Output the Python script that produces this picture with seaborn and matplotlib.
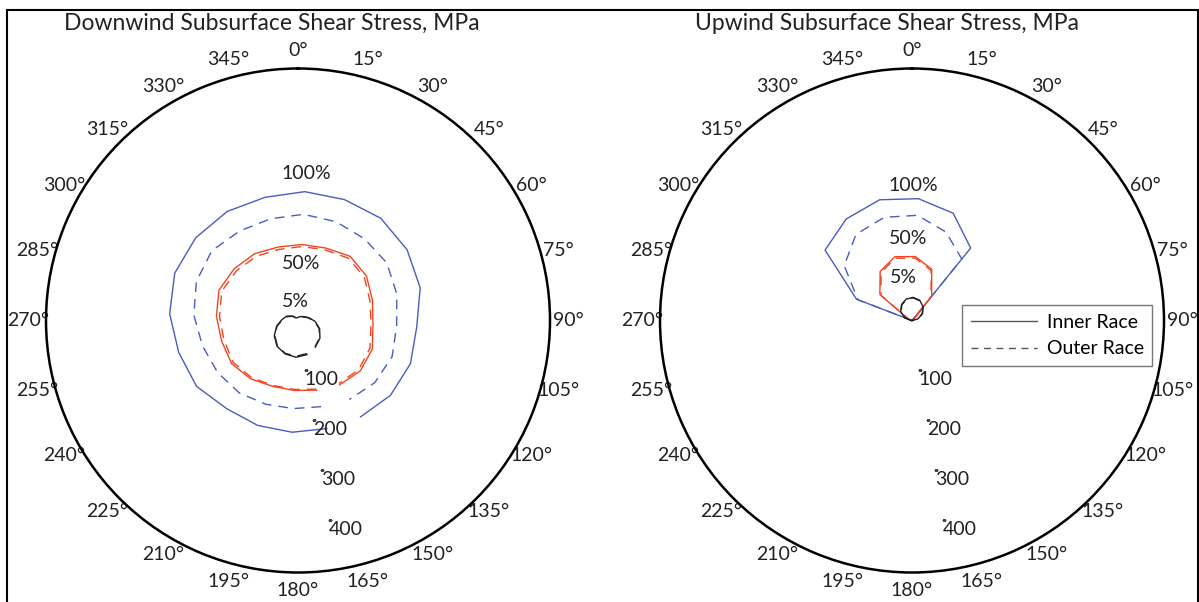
import numpy as np
import matplotlib
matplotlib.use("Agg")
import matplotlib.pyplot as plt
from matplotlib.lines import Line2D
import matplotlib.transforms as mtransforms
import seaborn as sns

plt.rcParams['font.family'] = ['Lato', 'DejaVu Sans']

# Sample angles (degrees, clockwise from top), in plotting order
angles = [165, 183, 201, 219, 237, 255, 273, 291, 309, 327,
          345, 363, 381, 399, 417, 435, 453, 471, 489, 507]

# Downwind (left) – MPa
down_inner_100 = [222, 222, 223, 225, 240, 245, 255, 262, 261, 258,
                  253, 256, 257, 261, 258, 251, 236, 239, 236, 228]
down_outer_100 = [177, 175, 178, 185, 190, 196, 207, 216, 220, 212,
                  209, 211, 210, 209, 210, 203, 196, 200, 196, 187]
down_inner_50 = [143, 139, 140, 149, 157, 157, 162, 168, 163, 158,
                 151, 151, 154, 164, 162, 153, 149, 158, 159, 152]
down_outer_50 = [141, 137, 138, 146, 153, 152, 156, 162, 157, 152,
                 146, 147, 150, 159, 157, 148, 145, 153, 155, 149]
down_inner_5 = [70, 73, 71, 66, 56, 44, 32, 24, 14, 6,
                6, 6, 8, 10, 14, 22, 34, 46, 56, 63]
down_outer_5 = [68, 71, 70, 65, 55, 43, 31, 22, 13, 5,
                5, 5, 7, 9, 13, 21, 33, 45, 55, 62]

# Upwind (right) – MPa
up_inner_100 = [0, 0, 0, 0, 0, 0, 0, 118, 222, 240,
                248, 242, 228, 185, 0, 0, 0, 0, 0, 0]
up_outer_100 = [0, 0, 0, 0, 0, 0, 0, 115, 173, 204,
                212, 209, 188, 157, 0, 0, 0, 0, 0, 0]
up_inner_50 = [0, 0, 0, 0, 0, 0, 0, 8, 82, 116,
               131, 127, 109, 62, 4, 0, 0, 0, 0, 0]
up_outer_50 = [0, 0, 0, 0, 0, 0, 0, 6, 79, 113,
               128, 124, 106, 60, 3, 0, 0, 0, 0, 0]
up_inner_5 = [0, 0, 0, 0, 0, 0, 2, 16, 29, 38,
              44, 46, 43, 35, 25, 12, 0, 0, 0, 0]
up_outer_5 = [0, 0, 0, 0, 0, 0, 2, 15, 28, 37,
              43, 45, 42, 34, 24, 11, 0, 0, 0, 0]

r_ticks = [100, 200, 300, 400]
theta_ticks = list(range(0, 360, 15))
titles = ["Downwind Subsurface Shear Stress, MPa", "Upwind Subsurface Shear Stress, MPa"]
pct_labels = ["100%", "50%", "5%"]

BLUE = "#4B5CC0"
RED = "#F2451F"
BLACK = "#222222"
TXT = "#222222"
DASH = (0, (7, 5))

W, H = 1199, 602
fig = plt.figure(figsize=(W / 100, H / 100), dpi=100)

def px_axes(x0, y0, x1, y1):
    return [x0 / W, 1 - y1 / H, (x1 - x0) / W, (y1 - y0) / H]

ax_l = fig.add_axes(px_axes(46, 68, 550, 573), projection='polar')
ax_r = fig.add_axes(px_axes(660, 68, 1164, 573), projection='polar')

series = {
    ax_l: [(down_inner_100, BLUE, '-'), (down_outer_100, BLUE, DASH),
           (down_inner_50, RED, '-'), (down_outer_50, RED, DASH),
           (down_inner_5, BLACK, '-'), (down_outer_5, BLACK, DASH)],
    ax_r: [(up_inner_100, BLUE, '-'), (up_outer_100, BLUE, DASH),
           (up_inner_50, RED, '-'), (up_outer_50, RED, DASH),
           (up_inner_5, BLACK, '-'), (up_outer_5, BLACK, DASH)],
}

RLABEL_ANGLE = 171
theta = np.deg2rad(angles)
for ax, lst in series.items():
    ax.set_theta_zero_location('N')
    ax.set_theta_direction(-1)
    for vals, col, ls in lst:
        sns.lineplot(x=theta, y=vals, sort=False, estimator=None, ax=ax,
                     color=col, linewidth=1.0, linestyle=ls, legend=False)
    ax.set_ylim(0, 500)
    ax.set_rticks(r_ticks)
    ax.set_yticklabels([])
    ax.set_rlabel_position(RLABEL_ANGLE)
    ax.set_thetagrids(theta_ticks, labels=[f"{t}°" for t in theta_ticks])
    ax.grid(False)
    ax.spines['polar'].set_linewidth(1.8)
    ax.spines['polar'].set_color('black')
    ax.tick_params(axis='x', direction='in', length=6, width=1.2, pad=6,
                   labelsize=14, colors=TXT)
    ax.set_xlabel('')
    ax.set_ylabel('')
    # radial value labels, placed just below-right of each radial tick
    off = mtransforms.ScaledTranslation(-1 / 100, -1 / 100, fig.dpi_scale_trans)
    for rv in r_ticks:
        ax.text(np.deg2rad(RLABEL_ANGLE), rv, str(rv), transform=ax.transData + off,
                ha='left', va='top', fontsize=14, color=TXT)
        ax.plot([np.deg2rad(RLABEL_ANGLE)], [rv], marker='_', markersize=3,
                color='#444444', markeredgewidth=0.8)

# percentage annotations
for (fx, fy), s in zip([(0.516, 0.792), (0.506, 0.614), (0.494, 0.537)], pct_labels):
    ax_l.text(fx, fy, s, transform=ax_l.transAxes, ha='center', va='center',
              fontsize=14, color=TXT)
for (fx, fy), s in zip([(0.502, 0.768), (0.492, 0.663), (0.482, 0.586)], pct_labels):
    ax_r.text(fx, fy, s, transform=ax_r.transAxes, ha='center', va='center',
              fontsize=14, color=TXT)

# titles
fig.text(272 / W, 1 - 23 / H, titles[0], ha='center', va='center', fontsize=16.5, color=TXT)
fig.text(887 / W, 1 - 23 / H, titles[1], ha='center', va='center', fontsize=16.5, color=TXT)

# legend
handles = [Line2D([], [], color='#555555', lw=1.0, ls='-'),
           Line2D([], [], color='#555555', lw=1.0, ls=(0, (5, 4)))]
leg = fig.legend(handles, ["Inner Race", "Outer Race"], loc='upper left',
                 bbox_to_anchor=(962 / W, 1 - 305 / H), bbox_transform=fig.transFigure,
                 fontsize=14, frameon=True, fancybox=False, handlelength=3.4,
                 borderpad=0.45, labelspacing=0.5, borderaxespad=0, handletextpad=0.5)
leg.get_frame().set_edgecolor('#555555')
leg.get_frame().set_linewidth(1.0)

# outer frame
fig.add_artist(plt.Rectangle((7 / W, -0.1), (1198 - 7) / W, (1 - 10 / H) + 0.1,
                             transform=fig.transFigure, fill=False, lw=1.5, ec='black'))

fig.savefig("out.png", dpi=100)
